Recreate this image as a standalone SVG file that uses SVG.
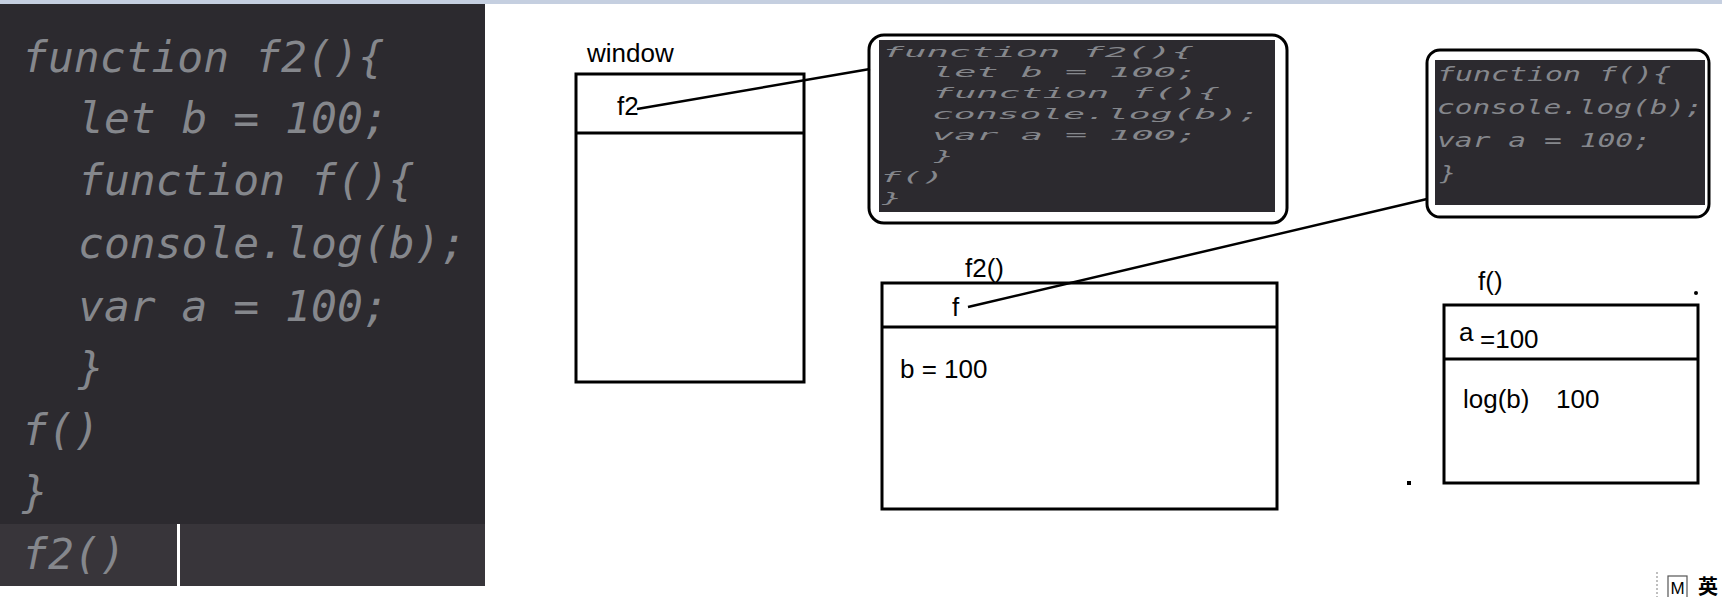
<svg xmlns="http://www.w3.org/2000/svg" width="1722" height="597" viewBox="0 0 1722 597">
<style>
.code{font-family:"DejaVu Sans Mono","Liberation Mono",monospace;font-style:italic;fill:#85878c}
.lbl{font-family:"Liberation Sans",Arial,sans-serif;font-size:26px;fill:#000}
.box{fill:#fff;stroke:#000;stroke-width:3}
.div{stroke:#000;stroke-width:3}
.conn{stroke:#000;stroke-width:2.5;fill:none}
.cbox{fill:#fff;stroke:#000;stroke-width:3}
.dark{fill:#2c2a2f}
</style>
<rect x="0" y="0" width="1722" height="597" fill="#fff"/>
<rect x="0" y="0" width="1722" height="4" fill="#c5cfe0"/>
<g id="editor">
<rect x="0" y="4" width="485" height="582" class="dark"/>
<rect x="0" y="524" width="485" height="62" fill="#38353a"/>
<g class="code" font-size="43">
<text x="22" y="72">function f2(){</text>
<text x="78" y="133">let b = 100;</text>
<text x="78" y="195">function f(){</text>
<text x="78" y="258">console.log(b);</text>
<text x="78" y="321">var a = 100;</text>
<text x="78" y="383">}</text>
<text x="22" y="445">f()</text>
<text x="22" y="507">}</text>
<text x="22" y="569">f2()</text>
</g>
<rect x="177" y="524" width="3" height="62" fill="#fff"/>
</g>
<g id="window">
<text class="lbl" x="587" y="62">window</text>
<rect class="box" x="576" y="74" width="228" height="308"/>
<line class="div" x1="576" y1="133" x2="804" y2="133"/>
<text class="lbl" x="617" y="115">f2</text>
</g>
<g id="code-f2">
<rect class="cbox" x="869" y="35" width="418" height="188" rx="15"/>
<rect class="dark" x="879" y="40" width="396" height="172"/>
<g class="code" font-size="14">
<text x="882" y="57" textLength="312" lengthAdjust="spacingAndGlyphs">function f2(){</text>
<text x="932" y="77" textLength="266" lengthAdjust="spacingAndGlyphs">let b = 100;</text>
<text x="932" y="98" textLength="288" lengthAdjust="spacingAndGlyphs">function f(){</text>
<text x="932" y="119" textLength="328" lengthAdjust="spacingAndGlyphs">console.log(b);</text>
<text x="932" y="140" textLength="266" lengthAdjust="spacingAndGlyphs">var a = 100;</text>
<text x="934" y="161" textLength="20" lengthAdjust="spacingAndGlyphs">}</text>
<text x="880" y="182" textLength="64" lengthAdjust="spacingAndGlyphs">f()</text>
<text x="882" y="203" textLength="20" lengthAdjust="spacingAndGlyphs">}</text>
</g>
</g>
<g id="code-f">
<rect class="cbox" x="1427" y="50" width="282" height="167" rx="13"/>
<rect class="dark" x="1435" y="60" width="270" height="145"/>
<g class="code" font-size="19">
<text x="1437" y="81" textLength="234" lengthAdjust="spacingAndGlyphs">function f(){</text>
<text x="1437" y="114" textLength="266" lengthAdjust="spacingAndGlyphs">console.log(b);</text>
<text x="1437" y="147" textLength="214" lengthAdjust="spacingAndGlyphs">var a = 100;</text>
<text x="1440" y="180" textLength="16" lengthAdjust="spacingAndGlyphs">}</text>
</g>
</g>
<g id="f2-scope">
<text class="lbl" x="965" y="277">f2()</text>
<rect class="box" x="882" y="283" width="395" height="226"/>
<line class="div" x1="882" y1="327" x2="1277" y2="327"/>
<text class="lbl" x="952" y="316">f</text>
<text class="lbl" x="900" y="378">b = 100</text>
</g>
<g id="f-scope">
<text class="lbl" x="1478" y="290">f()</text>
<rect class="box" x="1444" y="305" width="254" height="178"/>
<line class="div" x1="1444" y1="359" x2="1698" y2="359"/>
<text class="lbl" x="1459" y="341">a</text>
<text class="lbl" x="1480" y="348">=100</text>
<text class="lbl" x="1463" y="408">log(b)</text>
<text class="lbl" x="1556" y="408">100</text>
</g>
<g id="connectors">
<line class="conn" x1="637" y1="109" x2="870" y2="69"/>
<line class="conn" x1="968" y1="307" x2="1427" y2="199"/>
</g>
<circle cx="1696" cy="293" r="2" fill="#000"/>
<rect x="1407" y="481" width="4" height="4" fill="#000"/>
<g id="ime">
<line x1="1657" y1="572" x2="1657" y2="597" stroke="#aaa" stroke-width="1.5" stroke-dasharray="2,2"/>
<rect x="1668" y="576" width="19" height="22" fill="#fff" stroke="#555" stroke-width="1.2"/>
<text x="1677.5" y="594" text-anchor="middle" font-family="Liberation Sans,Arial,sans-serif" font-size="17" fill="#000">M</text>
<text x="1698" y="594" font-family="Noto Sans CJK SC,sans-serif" font-size="20" font-weight="bold" fill="#000">英</text>
</g>
</svg>
